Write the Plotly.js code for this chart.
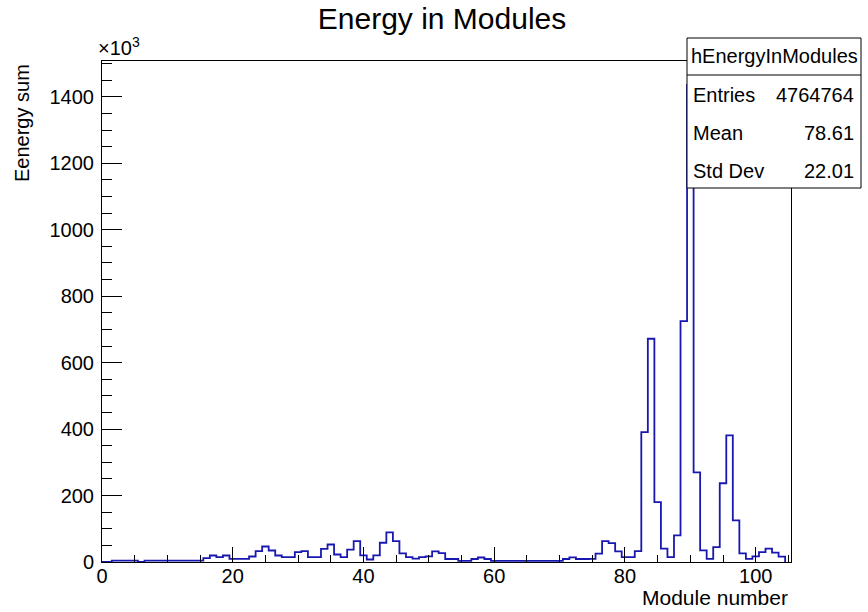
<!DOCTYPE html>
<html>
<head>
<meta charset="utf-8">
<script src="https://cdn.plot.ly/plotly-3.0.1.min.js"></script>
<style>html,body{margin:0;padding:0;background:#fff;}#chart{width:868px;height:612px;}</style>
</head>
<body>
<div id="chart"></div>
<script>
// Energy sum per module, in units of 10^3 (bins centred on module numbers 0..104)
const energyK = [
  0, 0, 4, 4, 4, 4, 0, 4, 4, 4,
  4, 4, 4, 4, 4, 4, 11.5, 19.6, 14.5, 19.6,
  9.5, 9.5, 9.5, 16.6, 32.5, 46.7, 34.6, 19.6, 14.5, 14.5,
  29.5, 32.5, 14.5, 14.5, 39.7, 52.7, 22.6, 14.5, 37, 63,
  20, 7.5, 20, 58, 89, 63, 26, 14.5, 10, 14.5,
  17, 32, 27, 9, 9, 3.5, 3.5, 9, 13.5, 9,
  3.5, 3.5, 3.5, 3.5, 3.5, 3.5, 3.5, 3.5, 3.5, 3.5,
  3.5, 9, 14, 9, 9, 9.6, 25, 63, 57, 32,
  14.5, 14.5, 33, 391, 672, 180, 40, 14.5, 80, 725,
  1436, 270, 35, 9.6, 44.6, 237, 381, 125, 26, 9.6,
  17, 30, 40, 28, 16
];
const modules = energyK.map((_, i) => i);
const binWidth = 1;

const statsTitle = "hEnergyInModules";
const statsLabels = ["Entries", "Mean", "Std Dev"];
const statsValues = ["4764764", "78.61", "22.01"];

const xTitle = "Module number";
const yTitle = "Eenergy sum";
const chartTitle = "Energy in Modules";

// histogram outline built from bin edges
const edges = modules.map(m => m - binWidth / 2);
edges.push(modules[modules.length - 1] + binWidth / 2);
const stepY = energyK.slice();
stepY.push(0);

const FONT = "Liberation Sans, Arial, Helvetica, sans-serif";

// geometry helpers (plot area in pixels)
const L = 102, R = 77, T = 61, B = 50, W = 868, H = 612;
const pw = W - L - R, ph = H - T - B;
const px = x => (x - L) / pw;
const py = y => (H - B - y) / ph;

const trace = {
  type: "scatter",
  mode: "lines",
  x: edges,
  y: stepY,
  line: {shape: "hv", color: "#1818b0", width: 1.8},
  hoverinfo: "skip",
  showlegend: false
};

const annotations = [
  {text: "×10<sup>3</sup>", xref: "paper", yref: "paper", x: px(96), y: py(47),
   xanchor: "left", yanchor: "middle", showarrow: false, font: {family: FONT, size: 20, color: "#000"}},
  {text: xTitle, xref: "paper", yref: "paper", x: px(790), y: py(597),
   xanchor: "right", yanchor: "middle", showarrow: false, font: {family: FONT, size: 21, color: "#000"}},
  {text: yTitle, xref: "paper", yref: "paper", x: px(22), y: py(62), textangle: -90,
   xanchor: "center", yanchor: "top", showarrow: false, font: {family: FONT, size: 20, color: "#000"}},
  {text: statsTitle, xref: "paper", yref: "paper", x: px(774), y: py(56),
   xanchor: "center", yanchor: "middle", showarrow: false, font: {family: FONT, size: 20, color: "#000"}}
];
const rowY = [95, 133, 171];
statsLabels.forEach((lab, i) => {
  annotations.push({text: lab, xref: "paper", yref: "paper", x: px(691), y: py(rowY[i]),
    xanchor: "left", yanchor: "middle", showarrow: false, font: {family: FONT, size: 20, color: "#000"}});
  annotations.push({text: statsValues[i], xref: "paper", yref: "paper", x: px(856), y: py(rowY[i]),
    xanchor: "right", yanchor: "middle", showarrow: false, font: {family: FONT, size: 20, color: "#000"}});
});

const layout = {
  width: W, height: H,
  margin: {l: L, r: R, t: T, b: B, pad: 0},
  paper_bgcolor: "#fff",
  plot_bgcolor: "#fff",
  font: {family: FONT, color: "#000"},
  title: {text: chartTitle, x: 442 / W, xref: "container", xanchor: "center",
          y: 1 - 18 / H, yref: "container", yanchor: "middle",
          font: {family: FONT, size: 30, color: "#000"}},
  xaxis: {
    range: [0, 105.4], tick0: 0, dtick: 20, ticks: "inside", ticklen: 15, tickwidth: 1,
    tickcolor: "#000", showline: true, linecolor: "#000", linewidth: 1, mirror: true,
    showgrid: false, zeroline: false, ticklabelstandoff: -4,
    tickfont: {family: FONT, size: 20, color: "#000"},
    minor: {dtick: 5, ticks: "inside", ticklen: 7.5, tickwidth: 1, tickcolor: "#000", showgrid: false}
  },
  yaxis: {
    range: [0, 1508], tick0: 0, dtick: 200, ticks: "inside", ticklen: 20, tickwidth: 1,
    tickcolor: "#000", showline: true, linecolor: "#000", linewidth: 1, mirror: true,
    showgrid: false, zeroline: false, ticklabelstandoff: 3,
    tickfont: {family: FONT, size: 20, color: "#000"},
    minor: {dtick: 50, ticks: "inside", ticklen: 10, tickwidth: 1, tickcolor: "#000", showgrid: false}
  },
  shapes: [
    {type: "rect", xref: "paper", yref: "paper", x0: px(687), x1: px(861), y0: py(188), y1: py(38),
     line: {color: "#000", width: 1}, fillcolor: "#fff", layer: "above"},
    {type: "line", xref: "paper", yref: "paper", x0: px(687), x1: px(861), y0: py(75), y1: py(75),
     line: {color: "#000", width: 1}, layer: "above"}
  ],
  annotations: annotations
};

Plotly.newPlot("chart", [trace], layout, {displayModeBar: false, staticPlot: true});
</script>
</body>
</html>
